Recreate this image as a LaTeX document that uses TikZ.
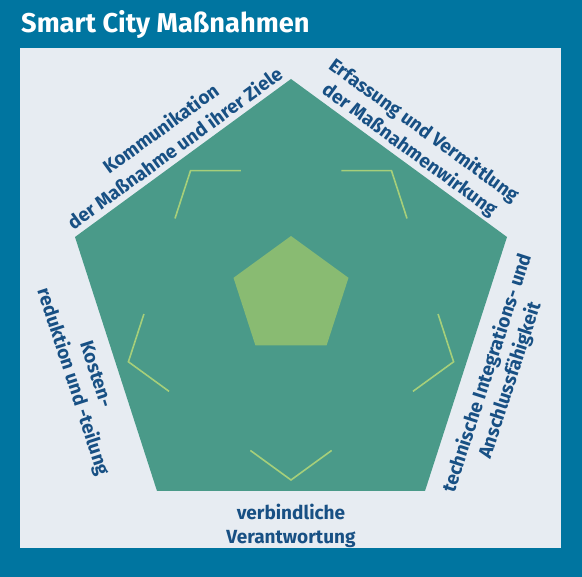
\documentclass[tikz,border=0pt]{standalone}
\usepackage{fontspec}
\setmainfont{Fira Sans}
\usetikzlibrary{calc}
\definecolor{frameblue}{RGB}{0,117,160}
\definecolor{panelgrey}{RGB}{231,236,242}
\definecolor{pentgreen}{RGB}{74,154,137}
\definecolor{coregreen}{RGB}{137,187,114}
\definecolor{chevgreen}{RGB}{166,207,122}
\definecolor{labelblue}{RGB}{24,80,132}

\tikzset{
  sidelabel/.style={text=labelblue,font=\bfseries\fontsize{19}{24}\selectfont,align=center,inner sep=0pt,text depth=0pt},
  chevron/.style={draw=chevgreen,line width=1.6pt}
}

\begin{document}
\begin{tikzpicture}[x=1pt,y=-1pt]

\fill[frameblue] (0,0) rectangle (582,577);
\fill[panelgrey] (20,48) rectangle (561,548);
\node (title) at (21,33)[anchor=base west,text=white,font=\bfseries\fontsize{27.2}{32}\selectfont,inner sep=0pt] {Smart City Maßnahmen};

\coordinate (P1) at (291,79);
\coordinate (P2) at (507,237);
\coordinate (P3) at (425,491);
\coordinate (P4) at (157,491);
\coordinate (P5) at (75,237);
\fill[pentgreen] (P1) -- (P2) -- (P3) -- (P4) -- (P5) -- cycle;

\coordinate (C1) at (291,236);
\coordinate (C2) at (348.5,277.8);
\coordinate (C3) at (326.6,345.4);
\coordinate (C4) at (255.4,345.4);
\coordinate (C5) at (233.5,277.8);
\fill[coregreen] (C1) -- (C2) -- (C3) -- (C4) -- (C5) -- cycle;

\coordinate (V1) at (190.5,170.7);
\coordinate (V2) at (391.5,170.7);
\coordinate (V3) at (453.6,361.8);
\coordinate (V4) at (291,480);
\coordinate (V5) at (128.4,361.8);
\draw[chevron] ($(V1)!0.25!(V5)$) -- (V1) -- ($(V1)!0.25!(V2)$);
\draw[chevron] ($(V2)!0.25!(V1)$) -- (V2) -- ($(V2)!0.25!(V3)$);
\draw[chevron] ($(V3)!0.25!(V2)$) -- (V3) -- ($(V3)!0.25!(V4)$);
\draw[chevron] ($(V4)!0.25!(V3)$) -- (V4) -- ($(V4)!0.25!(V5)$);
\draw[chevron] ($(V5)!0.25!(V4)$) -- (V5) -- ($(V5)!0.25!(V1)$);

\node (komm) at ($(P5)!0.5!(P1)+(-4,-4)$)[sidelabel,anchor=south,rotate=36] {Kommunikation\\der Maßnahme und ihrer Ziele};
\node (erfass) at ($(P1)!0.5!(P2)+(7,-3)$)[sidelabel,anchor=south,rotate=-36] {Erfassung und Vermittlung\\der Maßnahmenwirkung};
\node (technik) at ($(P2)!0.5!(P3)+(12,6)$)[sidelabel,anchor=north,rotate=72] {technische Integrations- und\\Anschlussfähigkeit};
\node (kosten) at ($(P4)!0.5!(P5)+(-13,8)$)[sidelabel,anchor=north,rotate=-72] {Kosten-\\reduktion und -teilung};
\node (verant) at (291,504)[sidelabel,anchor=north] {verbindliche\\Verantwortung};

\end{tikzpicture}
\end{document}
